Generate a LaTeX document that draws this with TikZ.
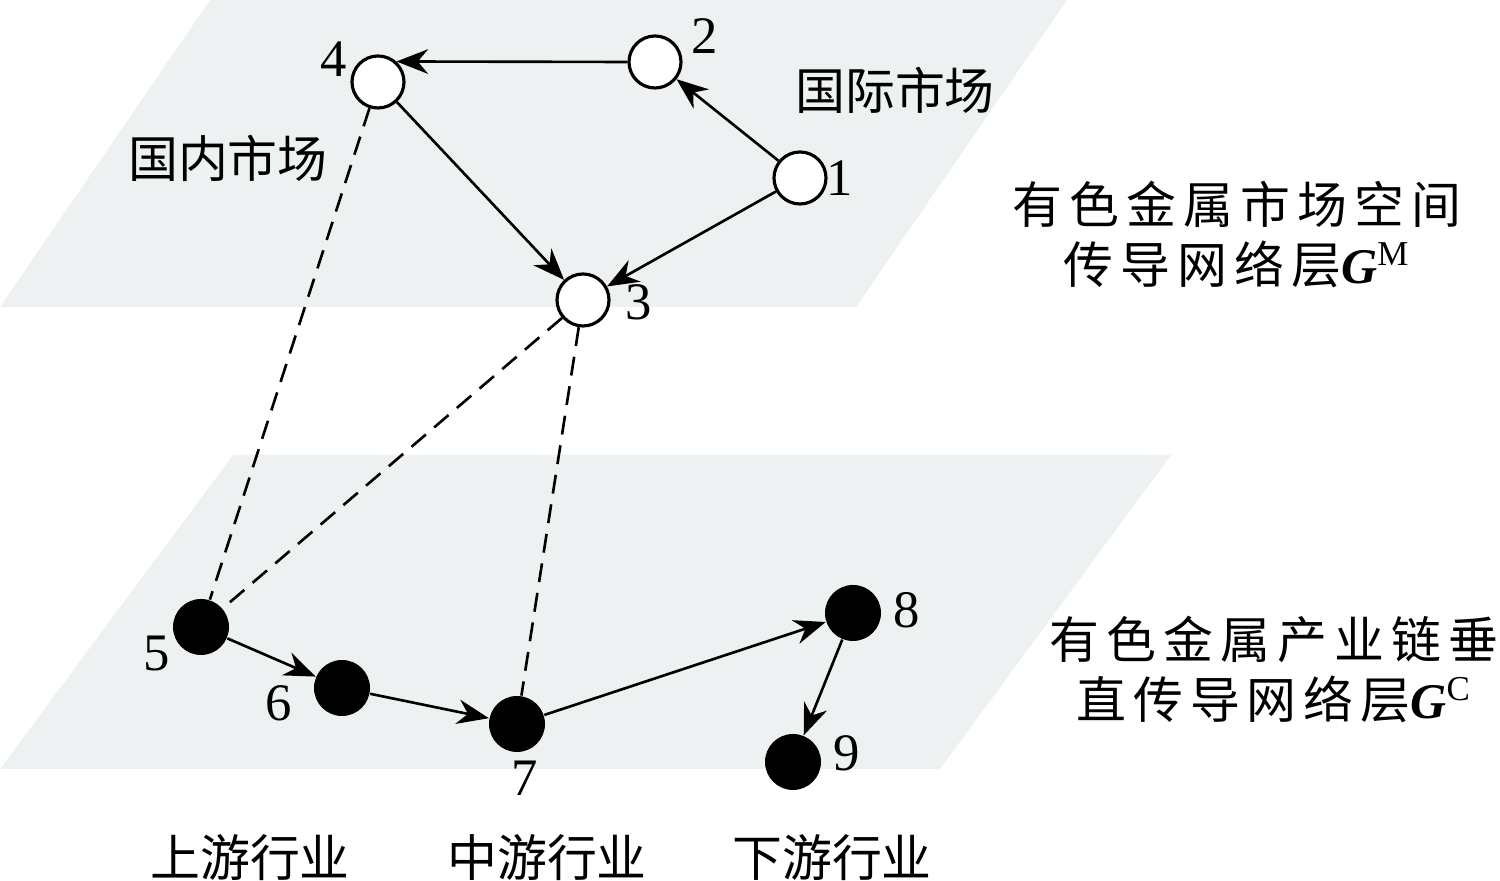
\documentclass[tikz,border=0pt]{standalone}
\usepackage{fontspec}
\setmainfont{Liberation Serif}
\newfontfamily\cjk{Noto Sans CJK SC}
\usetikzlibrary{arrows.meta}
\definecolor{planegray}{RGB}{238,241,242}

\begin{document}
\begin{tikzpicture}[
        >={Stealth[length=9pt,width=7pt]},
        plane/.style={fill=planegray, draw=none},
        whitenode/.style={circle, draw, line width=0.9pt, fill=white, minimum size=0.52cm, inner sep=0pt},
        blacknode/.style={circle, fill=black, minimum size=0.56cm, inner sep=0pt},
        num/.style={font=\fontsize{15}{15}\selectfont, inner sep=0pt},
        txt/.style={font=\cjk\fontsize{14.2}{17.1}\selectfont, inner sep=0pt},
        layertxt/.style={font=\cjk\fontsize{14.2}{17.1}\selectfont\addfontfeature{LetterSpace=14}, inner sep=0pt, align=center},
        link/.style={->, line width=0.75pt},
        tie/.style={line width=0.75pt, dash pattern=on 5.4pt off 3.1pt}
    ]
        \useasboundingbox (0,0) rectangle (15,8.81);
        \fill[plane] (0,5.74) -- (8.56,5.74) -- (10.67,8.81) -- (2.10,8.81) -- cycle;
        \fill[plane] (0,1.12) -- (9.40,1.12) -- (11.71,4.26) -- (2.33,4.26) -- cycle;

        \node[whitenode] (n1) at (8.00,7.03) {};
        \node[whitenode] (n2) at (6.55,8.19) {};
        \node[whitenode] (n3) at (5.83,5.81) {};
        \node[whitenode] (n4) at (3.78,7.99) {};
        \node[blacknode] (n5) at (2.01,2.54) {};
        \node[blacknode] (n6) at (3.42,1.93) {};
        \node[blacknode] (n7) at (5.17,1.57) {};
        \node[blacknode] (n8) at (8.53,2.68) {};
        \node[blacknode] (n9) at (7.93,1.19) {};

        \node[num] (l1) at (8.40,7.03) {1};
        \node[num] (l2) at (7.05,8.45) {2};
        \node[num] (l3) at (6.39,5.79) {3};
        \node[num] (l4) at (3.34,8.22) {4};
        \node[num] (l5) at (1.57,2.27) {5};
        \node[num] (l6) at (2.79,1.78) {6};
        \node[num] (l7) at (5.25,1.03) {7};
        \node[num] (l8) at (9.07,2.71) {8};
        \node[num] (l9) at (8.47,1.28) {9};

        \draw[link] (n2.west) -- (n4.48);
        \draw[link] (n1) -- (n2);
        \draw[link] (n1) -- (n3);
        \draw[link] (n4) -- (n3);
        \draw[link] (n5) -- (n6);
        \draw[link] (n6) -- (n7);
        \draw[link] (n7) -- (n8);
        \draw[link] (n8) -- (n9);
        \draw[tie] (n4) -- (n5);
        \draw[tie] (n3) -- (n5);
        \draw[tie] (n3) -- (n7);

        \node[txt] (intl) at (8.95,7.91) {国际市场};
        \node[txt] (dom) at (2.28,7.23) {国内市场};
        \node[layertxt] (gm) at (12.37,6.46) {有色金属市场空间\\传导网络层{\rmfamily\bfseries\itshape G\textsuperscript{\mdseries\upshape M}}};
        \node[layertxt] (gc) at (12.74,2.11) {有色金属产业链垂\\直传导网络层{\rmfamily\bfseries\itshape G\textsuperscript{\mdseries\upshape C}}};
        \node[txt] (up) at (2.50,0.23) {上游行业};
        \node[txt] (mid) at (5.47,0.23) {中游行业};
        \node[txt] (down) at (8.32,0.23) {下游行业};
\end{tikzpicture}
\end{document}
